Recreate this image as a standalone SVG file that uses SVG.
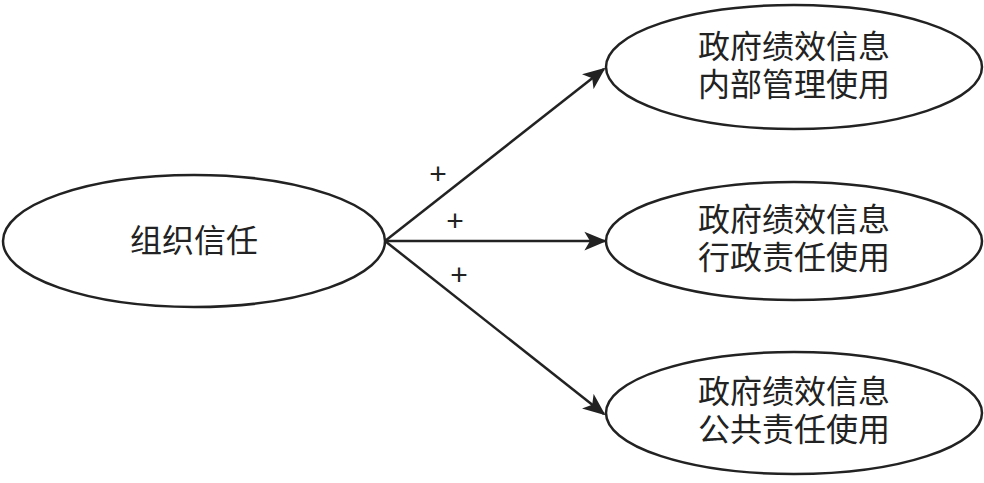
<svg xmlns="http://www.w3.org/2000/svg" width="984" height="483" viewBox="0 0 984 483">
<style>
.n{fill:#fff;stroke:#222;stroke-width:2.5}
.t{font-family:"Liberation Sans","Noto Sans CJK SC",sans-serif;font-size:32px;fill:#222;text-anchor:middle}
.c{stroke:#222;stroke-width:2.5;fill:none}
.p{font-family:"Liberation Sans",sans-serif;font-size:30px;fill:#222;text-anchor:middle}
</style>
<defs>
<marker id="a" viewBox="0 0 12 10" refX="11" refY="5" markerWidth="9" markerHeight="8" markerUnits="strokeWidth" orient="auto">
<path d="M0,0 L12,5 L0,10 L3,5 Z" fill="#222"/>
</marker>
</defs>
<rect width="984" height="483" fill="#fff"/>
<g id="n1"><ellipse class="n" cx="194" cy="241" rx="191" ry="66"/><text class="t" x="194" y="252">组织信任</text></g>
<g id="n2"><ellipse class="n" cx="794" cy="67" rx="188" ry="62"/><text class="t" x="794" y="58">政府绩效信息</text><text class="t" x="794" y="96">内部管理使用</text></g>
<g id="n3"><ellipse class="n" cx="794" cy="241" rx="188" ry="59"/><text class="t" x="794" y="231">政府绩效信息</text><text class="t" x="794" y="269">行政责任使用</text></g>
<g id="n4"><ellipse class="n" cx="794" cy="413" rx="188" ry="61"/><text class="t" x="794" y="403">政府绩效信息</text><text class="t" x="794" y="441">公共责任使用</text></g>
<g id="connectors">
<line class="c" x1="385" y1="241" x2="604" y2="69" marker-end="url(#a)"/>
<line class="c" x1="385" y1="241" x2="605" y2="241" marker-end="url(#a)"/>
<line class="c" x1="385" y1="241" x2="604" y2="414" marker-end="url(#a)"/>
<text class="p" x="438" y="184">+</text>
<text class="p" x="455" y="231">+</text>
<text class="p" x="459" y="285">+</text>
</g>
</svg>
